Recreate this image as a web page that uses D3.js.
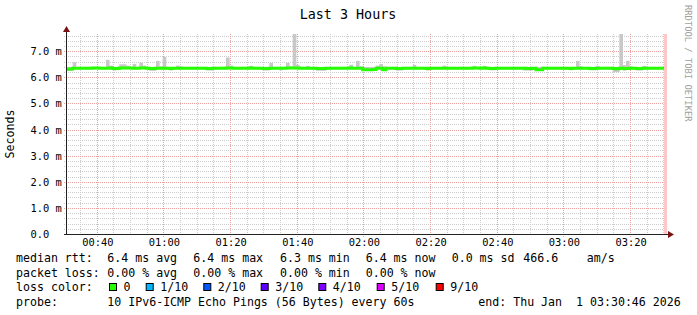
<!DOCTYPE html>
<html>
<head>
<meta charset="utf-8">
<script src="https://cdn.jsdelivr.net/npm/d3@7"></script>
<style>
body { margin: 0; background: #fff; }
text { font-family: "DejaVu Sans Mono", monospace; fill: #000; }
</style>
</head>
<body>
<div id="chart"></div>
<script>
// time window of the graph
var startTime = "2026-01-01T00:30:46Z"
var endTime = "2026-01-01T03:30:46Z"
var stepSeconds = 60

var xTickLabels = ["00:40", "01:00", "01:20", "01:40", "02:00", "02:20", "02:40", "03:00", "03:20"]
var yTickValues = [0, 1, 2, 3, 4, 5, 6, 7]
var yTickLabels = ["0.0", "1.0 m", "2.0 m", "3.0 m", "4.0 m", "5.0 m", "6.0 m", "7.0 m"]

// one value per minute, in ms
var medianRtt = [
  6.31,6.32,6.35,6.35,6.35,6.35,6.35,6.35,6.36,6.36,
  6.35,6.35,6.35,6.36,6.34,6.34,6.36,6.36,6.36,6.36,
  6.35,6.35,6.36,6.36,6.35,6.34,6.34,6.35,6.35,6.35,
  6.35,6.34,6.35,6.35,6.35,6.35,6.35,6.35,6.35,6.35,
  6.35,6.35,6.34,6.34,6.35,6.35,6.35,6.35,6.36,6.36,
  6.35,6.35,6.35,6.35,6.35,6.36,6.35,6.35,6.35,6.34,
  6.34,6.35,6.35,6.35,6.35,6.35,6.36,6.36,6.36,6.36,
  6.35,6.35,6.35,6.35,6.35,6.34,6.34,6.34,6.35,6.35,
  6.35,6.35,6.35,6.35,6.35,6.36,6.35,6.35,6.35,6.29,
  6.29,6.29,6.30,6.35,6.35,6.29,6.35,6.35,6.35,6.34,
  6.34,6.35,6.35,6.35,6.35,6.35,6.35,6.35,6.34,6.35,
  6.35,6.35,6.35,6.35,6.35,6.35,6.35,6.35,6.35,6.35,
  6.35,6.35,6.36,6.36,6.35,6.36,6.35,6.34,6.34,6.35,
  6.35,6.35,6.35,6.35,6.35,6.35,6.35,6.35,6.34,6.34,
  6.35,6.29,6.29,6.35,6.35,6.35,6.35,6.35,6.35,6.35,
  6.35,6.34,6.35,6.35,6.35,6.35,6.35,6.34,6.34,6.35,
  6.35,6.35,6.35,6.35,6.34,6.33,6.35,6.34,6.34,6.35,
  6.35,6.34,6.34,6.35,6.35,6.35,6.35,6.35,6.35,6.35
]
var maxRtt = [
  6.40,6.40,6.58,6.40,6.40,6.40,6.40,6.40,6.40,6.40,
  6.40,6.40,6.67,6.45,6.40,6.40,6.50,6.50,6.45,6.40,
  6.51,6.40,6.56,6.45,6.40,6.40,6.40,6.63,6.42,6.78,
  6.40,6.40,6.40,6.45,6.42,6.40,6.40,6.40,6.40,6.40,
  6.40,6.40,6.40,6.40,6.40,6.40,6.40,6.40,6.76,6.45,
  6.40,6.40,6.40,6.40,6.40,6.44,6.40,6.40,6.40,6.40,
  6.40,6.55,6.40,6.40,6.40,6.40,6.55,6.42,7.80,6.48,
  6.40,6.40,6.44,6.40,6.40,6.40,6.40,6.40,6.40,6.40,
  6.40,6.40,6.40,6.40,6.40,6.48,6.40,6.63,6.42,6.40,
  6.40,6.40,6.40,6.45,6.51,6.42,6.40,6.40,6.40,6.40,
  6.40,6.40,6.40,6.40,6.48,6.40,6.40,6.40,6.40,6.40,
  6.40,6.40,6.40,6.45,6.40,6.40,6.40,6.40,6.40,6.40,
  6.40,6.40,6.44,6.40,6.40,6.44,6.40,6.40,6.40,6.40,
  6.40,6.40,6.40,6.40,6.40,6.40,6.40,6.40,6.40,6.40,
  6.40,6.40,6.40,6.40,6.40,6.40,6.40,6.40,6.40,6.40,
  6.40,6.40,6.40,6.63,6.42,6.40,6.40,6.40,6.40,6.44,
  6.40,6.40,6.40,6.40,6.40,6.40,7.80,6.47,6.63,6.42,
  6.40,6.40,6.40,6.44,6.40,6.40,6.40,6.40,6.40,6.40
]
var minRtt = [
  6.25,6.25,6.31,6.31,6.31,6.31,6.31,6.31,6.31,6.31,
  6.31,6.31,6.31,6.31,6.26,6.31,6.31,6.31,6.31,6.31,
  6.31,6.31,6.31,6.31,6.31,6.25,6.25,6.31,6.31,6.31,
  6.31,6.26,6.31,6.31,6.31,6.31,6.31,6.31,6.31,6.31,
  6.31,6.31,6.26,6.26,6.31,6.31,6.31,6.31,6.31,6.31,
  6.31,6.31,6.31,6.31,6.31,6.31,6.31,6.31,6.31,6.26,
  6.26,6.31,6.31,6.31,6.27,6.31,6.31,6.31,6.31,6.31,
  6.31,6.31,6.31,6.31,6.31,6.25,6.25,6.25,6.31,6.31,
  6.31,6.31,6.31,6.31,6.31,6.31,6.31,6.31,6.31,6.26,
  6.26,6.26,6.26,6.31,6.31,6.26,6.31,6.31,6.31,6.26,
  6.26,6.31,6.31,6.31,6.31,6.31,6.31,6.31,6.26,6.31,
  6.31,6.31,6.31,6.31,6.31,6.31,6.31,6.31,6.31,6.31,
  6.31,6.31,6.31,6.31,6.31,6.31,6.31,6.27,6.27,6.31,
  6.31,6.31,6.31,6.31,6.31,6.31,6.31,6.26,6.26,6.26,
  6.31,6.26,6.26,6.31,6.31,6.31,6.31,6.31,6.31,6.31,
  6.31,6.27,6.31,6.31,6.31,6.31,6.31,6.27,6.27,6.31,
  6.31,6.31,6.31,6.31,6.20,6.20,6.31,6.25,6.31,6.31,
  6.31,6.26,6.26,6.31,6.31,6.31,6.31,6.31,6.31,6.31
]

// legend rows
var rttStats = ["6.4 ms avg", "6.4 ms max", "6.3 ms min", "6.4 ms now", "0.0 ms sd", "466.6", "am/s"]
var lossStats = ["0.00 % avg", "0.00 % max", "0.00 % min", "0.00 % now"]
var lossLabels = ["0", "1/10", "2/10", "3/10", "4/10", "5/10", "9/10"]
var lossColors = ["#26ff00", "#00b8ff", "#0059ff", "#5e00ff", "#7e00ff", "#dd00ff", "#ff0000"]
var probeText = "10 IPv6-ICMP Echo Pings (56 Bytes) every 60s"
var endText = "end: Thu Jan  1 03:30:46 2026"

var W = 697, H = 315
var plot = {left: 66, top: 34, width: 600, height: 200}

var svg = d3.select("#chart").append("svg").attr("width", W).attr("height", H)
svg.append("rect").attr("width", W).attr("height", H).attr("fill", "#fff")

var t0 = new Date(startTime), t1 = new Date(endTime)
var x = d3.scaleUtc().domain([t0, t1]).range([plot.left, plot.left + plot.width])
var y = d3.scaleLinear().domain([0, 7.66]).range([plot.top + plot.height, plot.top])

var samples = medianRtt.map(function(v, i) {
    return {t: new Date(t0.getTime() + i * stepSeconds * 1000), med: v, max: maxRtt[i], min: minRtt[i]}
})

function px(v) { return Math.round(v) + 0.5 }

/* grid */
var grid = svg.append("g")
var minorY = d3.range(1, 39).map(function(i) { return i * 0.2 }).filter(function(v) { return Math.abs(v - Math.round(v)) > 0.01 })
grid.selectAll(".hminor").data(minorY).enter().append("line")
    .attr("x1", plot.left - 2).attr("x2", plot.left + plot.width + 2)
    .attr("y1", function(d) { return px(y(d)) }).attr("y2", function(d) { return px(y(d)) })
    .attr("stroke", "#cdcdcd").attr("stroke-dasharray", "1,1")

var minorX = x.ticks(d3.utcMinute.every(5)).filter(function(d) { return d.getUTCMinutes() % 20 != 0 })
grid.selectAll(".vminor").data(minorX).enter().append("line")
    .attr("y1", plot.top).attr("y2", plot.top + plot.height + 2)
    .attr("x1", function(d) { return px(x(d)) }).attr("x2", function(d) { return px(x(d)) })
    .attr("stroke", "#cdcdcd").attr("stroke-dasharray", "1,1")

grid.selectAll(".hmajor").data(yTickValues.slice(1)).enter().append("line")
    .attr("x1", plot.left - 2).attr("x2", plot.left + plot.width + 2)
    .attr("y1", function(d) { return px(y(d)) }).attr("y2", function(d) { return px(y(d)) })
    .attr("stroke", "#eba0a0").attr("stroke-dasharray", "1,1")

var majorX = xTickLabels.map(function(s) { return new Date("2026-01-01T" + s + ":00Z") })
grid.selectAll(".vmajor").data(majorX).enter().append("line")
    .attr("y1", plot.top).attr("y2", plot.top + plot.height + 3)
    .attr("x1", function(d) { return px(x(d)) }).attr("x2", function(d) { return px(x(d)) })
    .attr("stroke", "#eba0a0").attr("stroke-dasharray", "1,1")

/* data */
svg.append("clipPath").attr("id", "clip").append("rect")
    .attr("x", plot.left).attr("y", plot.top).attr("width", plot.width).attr("height", plot.height)
var data = svg.append("g").attr("clip-path", "url(#clip)")

var stepW = x(new Date(t0.getTime() + stepSeconds * 1000)) - x(t0)
data.selectAll(".smoke").data(samples).enter().append("rect")
    .attr("x", function(d) { return x(d.t) })
    .attr("width", stepW + 0.3)
    .attr("y", function(d) { return y(d.max) })
    .attr("height", function(d) { return y(d.min) - y(d.max) })
    .attr("fill", "#c8c8c8")

var stepped = samples.concat([{t: t1, med: medianRtt[medianRtt.length - 1]}])
var line = d3.line().x(function(d) { return x(d.t) }).y(function(d) { return y(d.med) }).curve(d3.curveStepAfter)
data.append("path").datum(stepped).attr("d", line)
    .attr("fill", "none").attr("stroke", lossColors[0]).attr("stroke-width", 3)

// end-of-data marker
svg.append("rect").attr("x", plot.left + plot.width - 2).attr("y", plot.top)
    .attr("width", 3).attr("height", plot.height).attr("fill", "#ffc8c8")

/* axes */
svg.append("line").attr("x1", plot.left + 0.5).attr("x2", plot.left + 0.5)
    .attr("y1", plot.top - 3).attr("y2", plot.top + plot.height + 0.5).attr("stroke", "#222")
svg.append("line").attr("x1", plot.left - 2).attr("x2", plot.left + plot.width + 4)
    .attr("y1", plot.top + plot.height + 0.5).attr("y2", plot.top + plot.height + 0.5).attr("stroke", "#222")
svg.append("path").attr("fill", "#7a1212")
    .attr("d", "M" + (plot.left - 3) + "," + (plot.top - 2) + "L" + (plot.left + 4) + "," + (plot.top - 2) + "L" + (plot.left + 0.5) + "," + (plot.top - 8) + "Z")
var ax = plot.left + plot.width + 2, ay = plot.top + plot.height + 0.5
svg.append("path").attr("fill", "#7a1212")
    .attr("d", "M" + ax + "," + (ay - 3.5) + "L" + ax + "," + (ay + 3.5) + "L" + (ax + 6) + "," + ay + "Z")

svg.selectAll(".ylab").data(yTickValues).enter().append("text")
    .attr("x", 30.5).attr("y", function(d) { return y(d) + 4 })
    .style("font-size", "10.4px")
    .text(function(d, i) { return yTickLabels[i] })

svg.selectAll(".xlab").data(majorX).enter().append("text")
    .attr("x", function(d) { return x(d) + 1 }).attr("y", 245.5)
    .attr("text-anchor", "middle").style("font-size", "10.4px")
    .text(function(d, i) { return xTickLabels[i] })

svg.append("text").attr("transform", "translate(14," + (plot.top + plot.height / 2) + ") rotate(-90)")
    .attr("text-anchor", "middle").style("font-size", "11.6px").text("Seconds")

svg.append("text").attr("x", 348).attr("y", 18.5).attr("text-anchor", "middle")
    .style("font-size", "13.4px").text("Last 3 Hours")

svg.append("text").attr("transform", "translate(684.5,5) rotate(90)")
    .style("font-size", "8.8px").style("fill", "#a0a0a0").text("RRDTOOL / TOBI OETIKER")

/* legend */
var leg = svg.append("g").style("font-size", "11.6px")
var colX = [107.3, 193.3, 280, 365.7, 451.7, 523.3, 586.7]
var rowY = [262, 276.5, 291, 305.5]

leg.append("text").attr("x", 16).attr("y", rowY[0]).text("median rtt:")
leg.selectAll(".rtt").data(rttStats).enter().append("text")
    .attr("x", function(d, i) { return colX[i] }).attr("y", rowY[0]).text(function(d) { return d })

leg.append("text").attr("x", 16).attr("y", rowY[1]).text("packet loss:")
leg.selectAll(".loss").data(lossStats).enter().append("text")
    .attr("x", function(d, i) { return colX[i] }).attr("y", rowY[1]).text(function(d) { return d })

leg.append("text").attr("x", 16).attr("y", rowY[2]).text("loss color:")
var boxX = [109, 145.7, 203.3, 260.7, 318.3, 376.7, 435.7]
leg.selectAll(".lbox").data(lossColors).enter().append("rect")
    .attr("x", function(d, i) { return boxX[i] + 0.5 }).attr("y", rowY[2] - 7.5)
    .attr("width", 7).attr("height", 7)
    .attr("fill", function(d) { return d }).attr("stroke", "#000")
leg.selectAll(".llab").data(lossLabels).enter().append("text")
    .attr("x", function(d, i) { return boxX[i] + 14.5 }).attr("y", rowY[2]).text(function(d) { return d })

leg.append("text").attr("x", 16).attr("y", rowY[3]).text("probe:")
leg.append("text").attr("x", 107.3).attr("y", rowY[3]).text(probeText)
leg.append("text").attr("x", 478.3).attr("y", rowY[3]).attr("xml:space", "preserve").style("white-space", "pre").text(endText)
</script>
</body>
</html>
